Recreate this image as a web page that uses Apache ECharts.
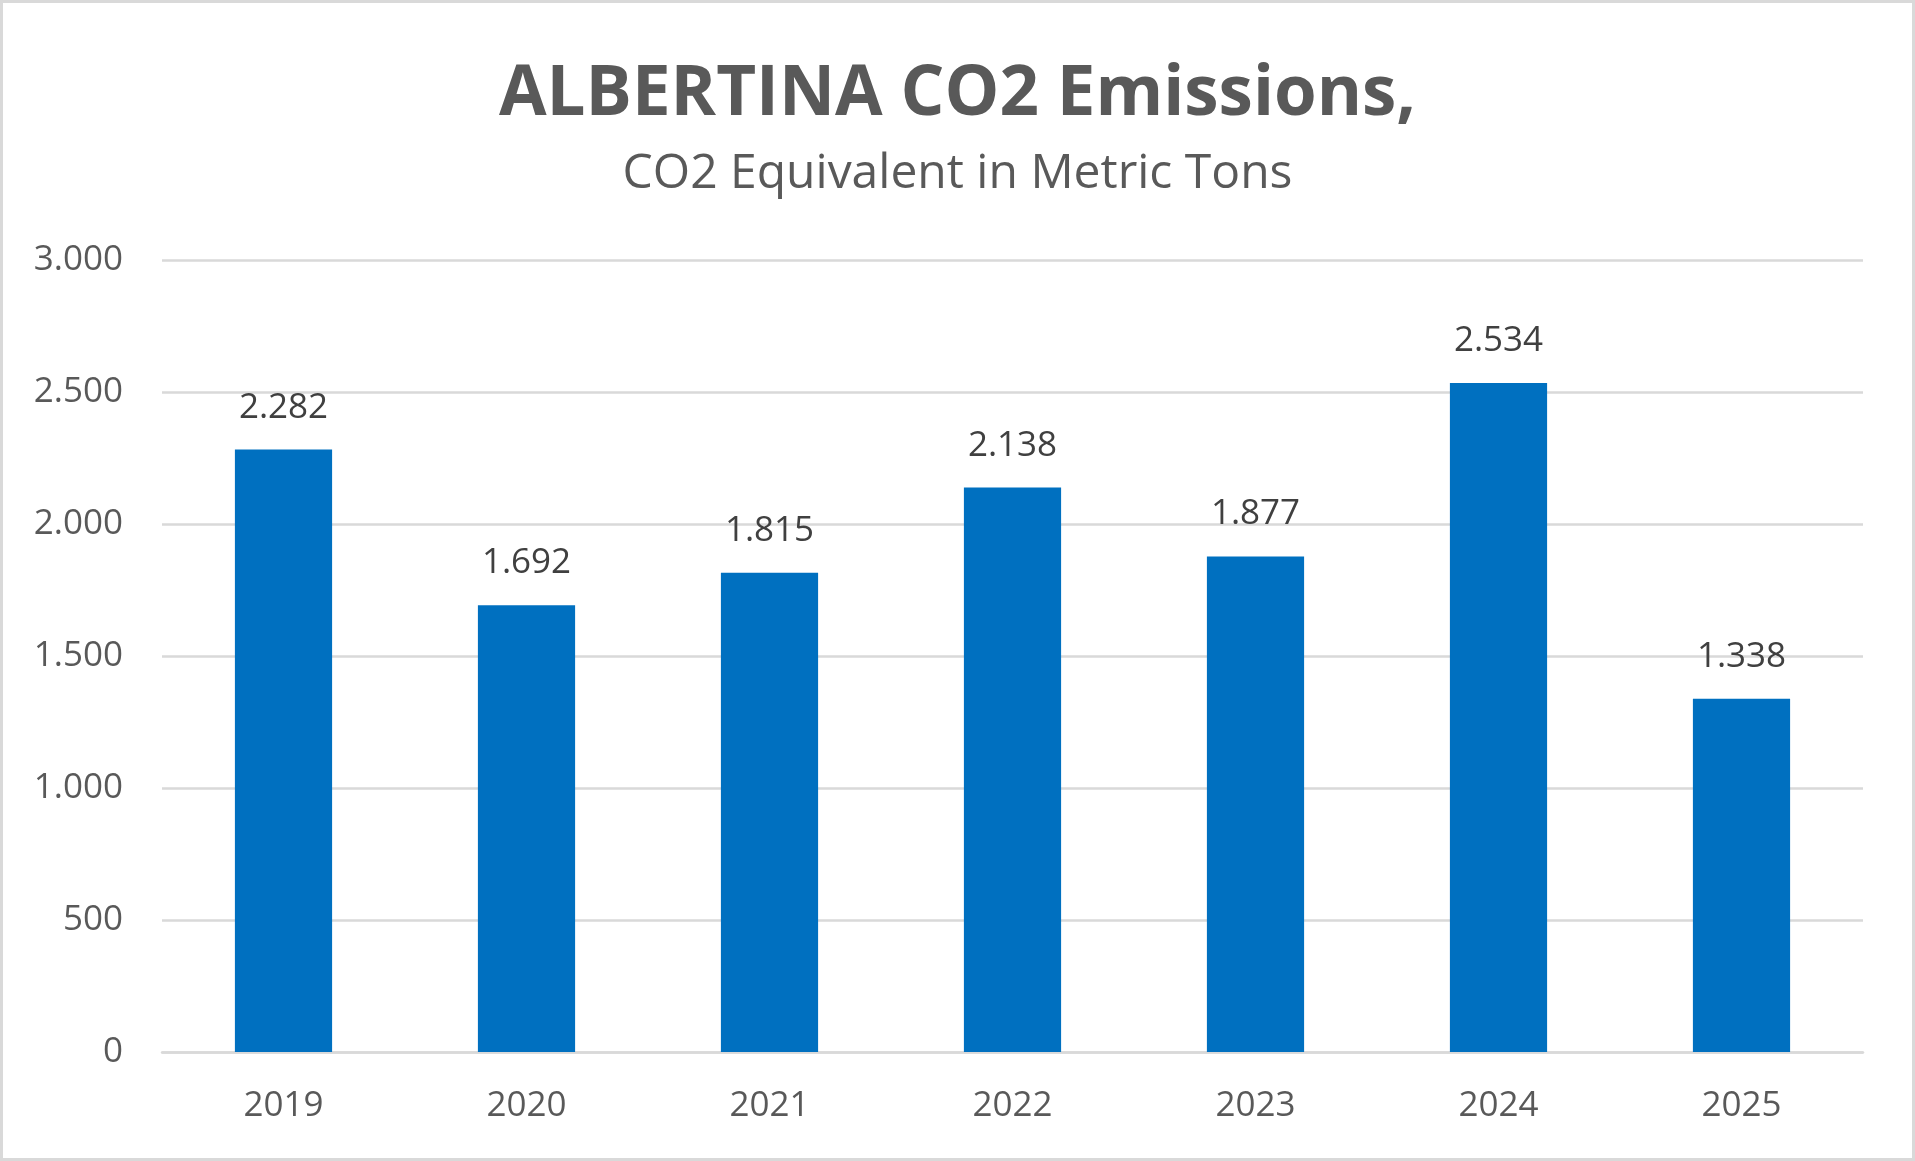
<!DOCTYPE html>
<html>
<head>
<meta charset="utf-8">
<script src="https://cdn.jsdelivr.net/npm/echarts@6/dist/echarts.min.js"></script>
<style>
  html, body { margin: 0; padding: 0; background: #ffffff; }
  #wrap { position: relative; width: 1915px; height: 1161px; }
  #chart { position: absolute; left: 0; top: 0; width: 1915px; height: 1161px; }
  #frame { position: absolute; left: 0; top: 0; width: 1915px; height: 1161px; box-sizing: border-box; border: 3px solid #d9d9d9; pointer-events: none; }
</style>
</head>
<body>
<div id="wrap"><div id="chart"></div><div id="frame"></div></div>
<script>
const titleText = 'ALBERTINA CO2 Emissions,';
const subtitleText = 'CO2 Equivalent in Metric Tons';
const categories = ['2019', '2020', '2021', '2022', '2023', '2024', '2025'];
const emissions = [2282, 1692, 1815, 2138, 1877, 2534, 1338];
const yMin = 0, yMax = 3000, yInterval = 500;

function fmt(v) {
  return String(Math.round(v)).replace(/\B(?=(\d{3})+(?!\d))/g, '.');
}

const FONT = '"Open Sans", "Noto Sans", sans-serif';
const chart = echarts.init(document.getElementById('chart'), null, { renderer: 'canvas' });
chart.setOption({
  animation: false,
  backgroundColor: '#ffffff',
  title: [
    {
      text: titleText, left: 'center', top: 50,
      textStyle: { fontFamily: FONT, fontSize: 69, fontWeight: 'bold', color: '#595959', lineHeight: 80 }
    },
    {
      text: subtitleText, left: 'center', top: 139,
      textStyle: { fontFamily: FONT, fontSize: 48, fontWeight: 'normal', color: '#595959', lineHeight: 60 }
    }
  ],
  grid: { left: 162, right: 52, top: 260, bottom: 109, containLabel: false },
  xAxis: {
    type: 'category',
    data: categories,
    axisLine: { show: true, lineStyle: { color: '#d9d9d9', width: 2.5 } },
    axisTick: { show: false },
    axisLabel: { fontFamily: FONT, fontSize: 35, color: '#595959', margin: 34, lineHeight: 40 }
  },
  yAxis: {
    type: 'value',
    min: yMin, max: yMax, interval: yInterval,
    axisLine: { show: false },
    axisTick: { show: false },
    splitLine: { show: true, lineStyle: { color: '#d9d9d9', width: 2.5 } },
    axisLabel: { fontFamily: FONT, fontSize: 35, color: '#595959', margin: 39, formatter: fmt }
  },
  series: [{
    type: 'bar',
    data: emissions,
    barWidth: '40%',
    itemStyle: { color: '#0070C0' },
    label: {
      show: true, position: 'top', distance: 22,
      fontFamily: FONT, fontSize: 35, color: '#404040', lineHeight: 40,
      formatter: p => fmt(p.value)
    }
  }]
});
</script>
</body>
</html>
